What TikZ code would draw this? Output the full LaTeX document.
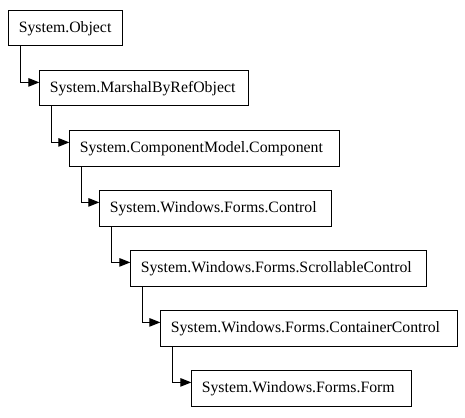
\documentclass[tikz,border=0pt]{standalone}
\usepackage{fontspec}
\setmainfont{Liberation Serif}
\usetikzlibrary{arrows.meta}
\begin{document}
\begin{tikzpicture}[x=1pt,y=1pt,
  cls/.style={draw=black, line width=1pt, fill=white, anchor=north west,
    inner xsep=10.5pt, inner ysep=0pt, outer sep=0pt, align=left,
    minimum height=35.3pt, font=\fontsize{15.8pt}{18pt}\selectfont},
  inherit/.style={draw=black, line width=1pt,
    -{Triangle[length=11pt,width=8.5pt]}}]
\useasboundingbox (0,0) rectangle (465,-417);
\node[cls, text width=93pt] (o) at (8.3,-10.7) {System.Object};
\node[cls, text width=188pt] (m) at (39.3,-70.7) {System.MarshalByRefObject};
\node[cls, text width=249pt] (c) at (69.3,-130.7) {System.ComponentModel.Component};
\node[cls, text width=211.4pt] (ct) at (99.3,-190.7) {System.Windows.Forms.Control};
\node[cls, text width=275pt] (s) at (130.3,-250.7) {System.Windows.Forms.ScrollableControl};
\node[cls, text width=276pt] (cc) at (160.3,-310.7) {System.Windows.Forms.ContainerControl};
\node[cls, text width=199pt] (f) at (191.3,-370.7) {System.Windows.Forms.Form};
\draw[inherit] ([xshift=12pt]o.south west) |- ([yshift=-11.7pt]m.north west);
\draw[inherit] ([xshift=12pt]m.south west) |- ([yshift=-11.7pt]c.north west);
\draw[inherit] ([xshift=12pt]c.south west) |- ([yshift=-11.7pt]ct.north west);
\draw[inherit] ([xshift=12pt]ct.south west) |- ([yshift=-11.7pt]s.north west);
\draw[inherit] ([xshift=12pt]s.south west) |- ([yshift=-11.7pt]cc.north west);
\draw[inherit] ([xshift=12pt]cc.south west) |- ([yshift=-11.7pt]f.north west);
\end{tikzpicture}
\end{document}
